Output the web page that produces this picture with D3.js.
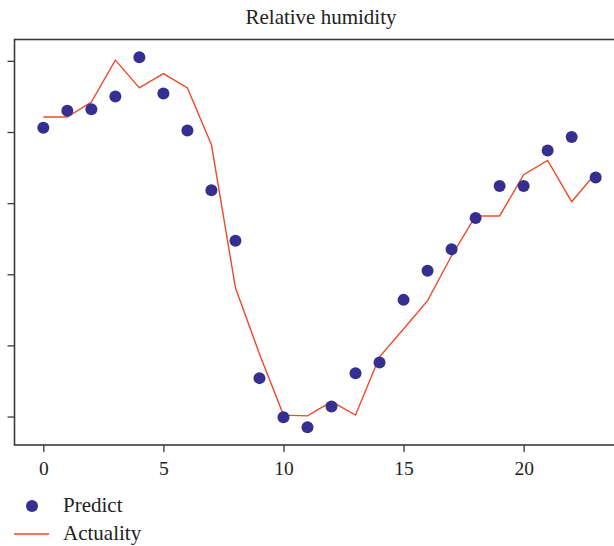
<!DOCTYPE html>
<html>
<head>
<meta charset="utf-8">
<script src="https://cdn.jsdelivr.net/npm/d3@7"></script>
<style>
  html, body { margin: 0; padding: 0; background: #fff; }
  svg { display: block; }
  text { font-family: "Liberation Serif", "Times New Roman", serif; fill: #222; }
</style>
</head>
<body>
<svg id="chart" width="614" height="546"></svg>
<script>
// Hours 0..23
const hours = d3.range(0, 24);
// Model prediction (dots)
const predict = [70.6, 73.0, 73.2, 75.0, 80.5, 75.4, 70.2, 61.8, 54.7, 35.4, 29.9, 28.5,
                 31.4, 36.1, 37.6, 46.4, 50.5, 53.5, 57.9, 62.4, 62.4, 67.4, 69.3, 63.6];
// Measured values (line)
const actuality = [72.1, 72.1, 74.2, 80.1, 76.2, 78.2, 76.2, 68.2, 48.1, 38.8, 30.2, 30.1,
                   32.1, 30.2, 38.4, 42.3, 46.3, 52.6, 58.2, 58.2, 64.0, 66.0, 60.2, 64.2];
const xTicks = [0, 5, 10, 15, 20];
const yTicks = [30, 40, 50, 60, 70, 80];
const title = "Relative humidity";
const seriesNames = ["Predict", "Actuality"];

const svg = d3.select("#chart");
const plot = { left: 14.5, top: 39.5, right: 624.5, bottom: 445 };

const x = d3.scaleLinear().domain([-1.2, 24.2]).range([plot.left, plot.right]);
const y = d3.scaleLinear().domain([26, 83]).range([plot.bottom, plot.top]);

const dotColor = "#352f8f";
const lineColor = "#f0492a";
const axisColor = "#3a3a3a";

// Plot frame
svg.append("rect")
  .attr("x", plot.left).attr("y", plot.top)
  .attr("width", plot.right - plot.left).attr("height", plot.bottom - plot.top)
  .attr("fill", "none").attr("stroke", axisColor).attr("stroke-width", 1.6);

// X axis
const xAxis = svg.append("g")
  .attr("transform", `translate(0,${plot.bottom})`)
  .call(d3.axisBottom(x).tickValues(xTicks).tickSize(7).tickPadding(9).tickFormat(d3.format("d")));
xAxis.select(".domain").remove();
xAxis.selectAll("line").attr("stroke", axisColor).attr("stroke-width", 1.3);
xAxis.selectAll("text").attr("font-size", 19.5).attr("fill", "#222")
  .attr("font-family", "Liberation Serif, serif");

// Y axis (ticks only, no labels)
const yAxis = svg.append("g")
  .attr("transform", `translate(${plot.left},0)`)
  .call(d3.axisLeft(y).tickValues(yTicks).tickSize(7).tickFormat(""));
yAxis.select(".domain").remove();
yAxis.selectAll("line").attr("stroke", axisColor).attr("stroke-width", 1.3);

// Actuality line
const line = d3.line().x((d, i) => x(hours[i])).y(d => y(d));
svg.append("path")
  .datum(actuality)
  .attr("d", line)
  .attr("fill", "none")
  .attr("stroke", lineColor)
  .attr("stroke-width", 1.4);

// Predicted dots
svg.append("g").selectAll("circle")
  .data(predict)
  .join("circle")
  .attr("cx", (d, i) => x(hours[i]))
  .attr("cy", d => y(d))
  .attr("r", 6)
  .attr("fill", dotColor);

// Title
svg.append("text")
  .attr("x", 321).attr("y", 24)
  .attr("text-anchor", "middle")
  .attr("font-size", 21)
  .text(title);

// Legend
const legend = svg.append("g");
legend.append("circle").attr("cx", 32).attr("cy", 506).attr("r", 6).attr("fill", dotColor);
legend.append("text").attr("x", 63).attr("y", 512).attr("font-size", 21).text(seriesNames[0]);
legend.append("line").attr("x1", 14).attr("x2", 49).attr("y1", 534).attr("y2", 534)
  .attr("stroke", lineColor).attr("stroke-width", 1.4);
legend.append("text").attr("x", 63).attr("y", 540).attr("font-size", 21).text(seriesNames[1]);
</script>
</body>
</html>
